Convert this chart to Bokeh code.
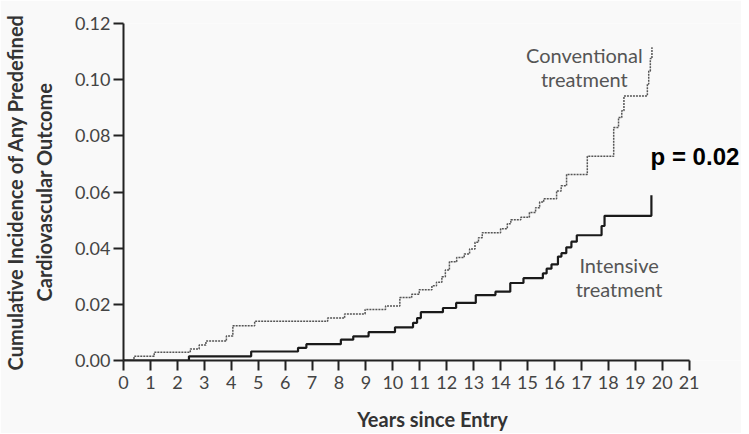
from bokeh.plotting import figure
from bokeh.models import Range1d, FixedTicker, NumeralTickFormatter, Label
from bokeh.embed import file_html
from bokeh.resources import INLINE

# Conventional treatment: step times (years) and cumulative incidence after each step
conv_t = [0, 0.39, 1.14, 2.48, 2.81, 3.06, 3.82, 4.06, 4.87, 7.58, 8.21, 8.97, 9.73,
          10.26, 10.7, 10.98, 11.45, 11.62, 11.82, 11.95, 12.1, 12.37, 12.65, 12.85,
          13.05, 13.18, 13.32, 14.0, 14.25, 14.38, 14.75, 15.07, 15.3, 15.45, 15.6,
          16.08, 16.25, 16.45, 17.22, 18.2, 18.38, 18.5, 18.58, 19.45, 19.5, 19.56, 19.62]
conv_v = [0, 0.0015, 0.0029, 0.0041, 0.0055, 0.0069, 0.0087, 0.0124, 0.0140, 0.0151,
          0.0166, 0.0182, 0.0194, 0.0224, 0.0236, 0.0252, 0.0266, 0.0279, 0.0298, 0.0322,
          0.0352, 0.0367, 0.0379, 0.0397, 0.0421, 0.0437, 0.0455, 0.0469, 0.0487, 0.0501,
          0.0510, 0.0527, 0.0544, 0.0564, 0.0576, 0.0604, 0.0622, 0.0662, 0.0727, 0.0830,
          0.0865, 0.0889, 0.0942, 0.0985, 0.1030, 0.1075, 0.1115]

# Intensive treatment
int_t = [0, 2.43, 4.74, 6.48, 6.79, 8.07, 8.53, 9.1, 10.08, 10.75, 10.9, 11.04, 11.86,
         12.35, 13.08, 13.81, 14.36, 14.85, 15.57, 15.71, 15.89, 16.13, 16.26, 16.44,
         16.63, 16.83, 17.75, 17.86, 19.6]
int_v = [0, 0.0015, 0.0032, 0.0045, 0.0058, 0.0074, 0.0086, 0.0101, 0.0118, 0.0134,
         0.0151, 0.0172, 0.0187, 0.0205, 0.0233, 0.0245, 0.0276, 0.0293, 0.0310, 0.0327,
         0.0342, 0.0370, 0.0382, 0.0403, 0.0423, 0.0446, 0.0479, 0.0515, 0.0588]

x_ticks = list(range(0, 22))
y_ticks = [0.0, 0.02, 0.04, 0.06, 0.08, 0.10, 0.12]

BG = "#f9f9f9"
FONT = "Lato"

p = figure(width=741, height=433, output_backend="svg", toolbar_location=None,
           x_range=Range1d(0, 22.945), y_range=Range1d(0, 0.12),
           min_border_left=115, min_border_right=0, min_border_top=23,
           min_border_bottom=73)
p.background_fill_color = BG
p.border_fill_color = BG
p.outline_line_color = None
p.grid.visible = False

p.step(conv_t, conv_v, mode="after", line_color="#555555", line_width=1.5,
       line_dash="2 1")
p.step(int_t, int_v, mode="after", line_color="#1a1a1a", line_width=2.2)

for ax in (p.xaxis[0], p.yaxis[0]):
    ax.axis_line_color = "#222222"
    ax.axis_line_width = 2
    ax.major_tick_line_color = "#222222"
    ax.major_tick_line_width = 2
    ax.major_tick_in = 0
    ax.major_tick_out = 10
    ax.minor_tick_line_color = None
    ax.major_label_text_font = FONT
    ax.major_label_text_font_size = "18px"
    ax.major_label_text_color = "#444444"
    ax.axis_label_text_font = FONT
    ax.axis_label_text_font_style = "bold"
    ax.axis_label_text_font_size = "20px"
    ax.axis_label_text_color = "#333333"

p.xaxis.ticker = FixedTicker(ticks=x_ticks)
p.xaxis.bounds = (0, 21)
p.xaxis.major_label_standoff = 5
p.xaxis.axis_label = "Years since Entry"
p.xaxis.axis_label_standoff = 15

p.yaxis.ticker = FixedTicker(ticks=y_ticks)
p.yaxis.bounds = (0, 0.12)
p.yaxis.formatter = NumeralTickFormatter(format="0.00")
p.yaxis.major_label_standoff = 3
p.yaxis.axis_label = "Cumulative Incidence of Any Predefined\nCardiovascular Outcome"
p.yaxis.axis_label_standoff = 16

lab = dict(text_align="center", text_baseline="middle", text_font=FONT,
           text_font_size="20px", text_color="#555555")
p.add_layout(Label(x=17.11, y=0.1087, text="Conventional", **lab))
p.add_layout(Label(x=17.11, y=0.1002, text="treatment", **lab))
p.add_layout(Label(x=18.4, y=0.0340, text="Intensive", **lab))
p.add_layout(Label(x=18.4, y=0.0254, text="treatment", **lab))
p.add_layout(Label(x=19.57, y=0.0725, text="p = 0.02", text_align="left",
                   text_baseline="middle", text_font="Liberation Sans",
                   text_font_style="bold", text_font_size="24px",
                   text_color="#000000"))

open("out.html", "w").write(file_html(p, INLINE))
